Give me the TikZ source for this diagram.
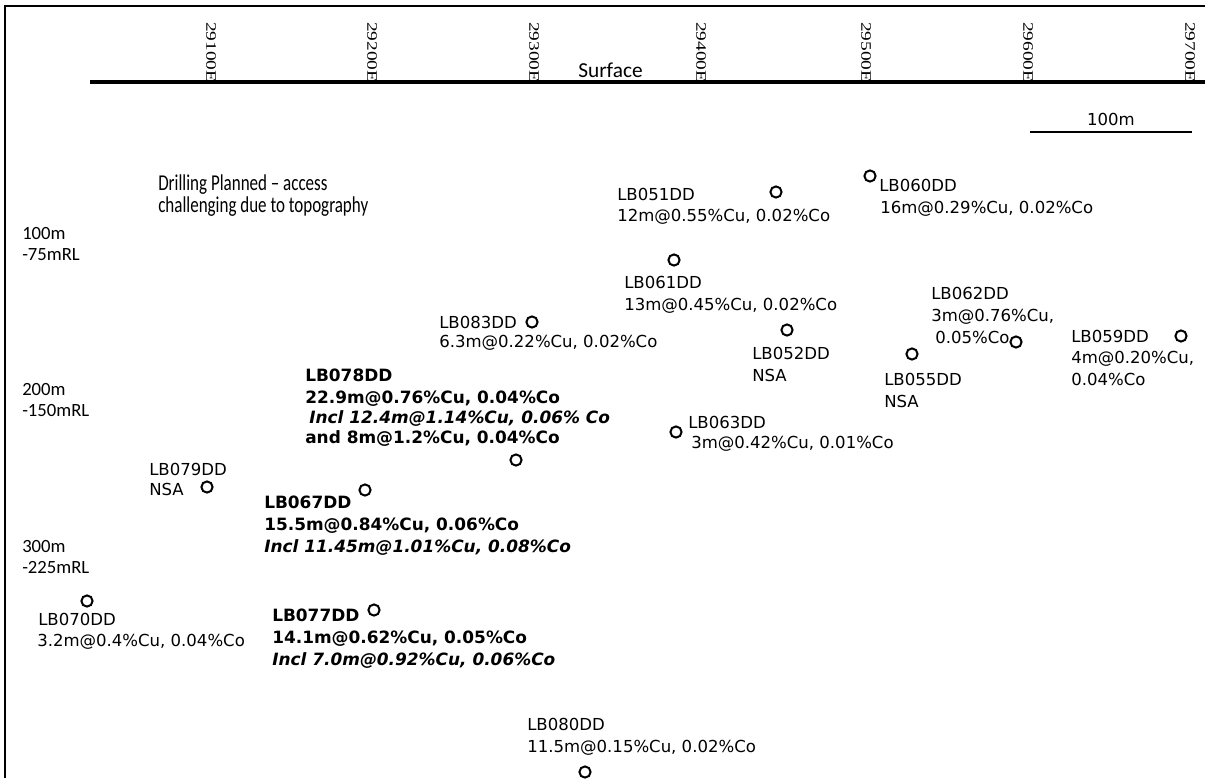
\documentclass[tikz,border=0pt]{standalone}
\usepackage{fontspec}
\setmainfont{DejaVu Sans}
\newfontfamily\califont{Carlito}
\newfontfamily\narrowfont{Carlito}[FakeStretch=0.75]
\newfontfamily\eastfont{Liberation Serif}

\begin{document}
\begin{tikzpicture}[x=0.75pt, y=-0.75pt,
  hole/.style={circle, draw, line width=1.5pt, minimum size=8.4pt, inner sep=0pt},
  lbl/.style={anchor=base west, inner sep=0pt, font=\fontsize{12.4}{15}\selectfont},
  hit/.style={anchor=base west, inner sep=0pt, font=\fontsize{12.7}{15}\selectfont\bfseries},
  incl/.style={anchor=base west, inner sep=0pt, font=\fontsize{12.7}{15}\selectfont\bfseries\itshape},
  cal/.style={anchor=base west, inner sep=0pt, font=\califont\fontsize{14}{17}\selectfont},
  note/.style={anchor=base west, inner sep=0pt, font=\narrowfont\fontsize{17}{19}\selectfont},
  easting/.style={rotate=-90, yscale=0.75, anchor=west, inner sep=0pt, font=\eastfont\fontsize{14.5}{15}\selectfont}]
  \useasboundingbox (0,0) rectangle (1205,778);

  % frame and surface
  \draw[line width=1.5pt] (5,778) -- (5,6) -- (1205,6);
  \draw[line width=2.5pt] (90,82) -- (1205,82);
  \node[cal, font=\califont\fontsize{16}{18}\selectfont] (surface) at (578,77) {Surface};
  \foreach \e/\x in {29100/211, 29200/372, 29300/534, 29400/701, 29500/866, 29600/1028, 29700/1190}
    \node[easting] (e\e) at (\x,22) {\e E};

  % scale bar
  \draw[line width=2.2pt] (1030,132) -- (1192,132);
  \node[lbl, anchor=base] (scale) at (1111,125) {100m};

  % depth marks
  \node[cal] (d100) at (22,239) {100m};
  \node[cal] (rl75) at (22,260) {-75mRL};
  \node[cal] (d200) at (22,395) {200m};
  \node[cal] (rl150) at (22,416) {-150mRL};
  \node[cal] (d300) at (22,552) {300m};
  \node[cal] (rl225) at (22,573) {-225mRL};

  \node[note] (plan1) at (158,190) {Drilling Planned – access};
  \node[note] (plan2) at (158,212) {challenging due to topography};

  % holes
  \node[hole] (lb051) at (776,192) {};
  \node[lbl] (lb051a) at (617,200) {LB051DD};
  \node[lbl] (lb051b) at (617,221) {12m@0.55\%Cu, 0.02\%Co};

  \node[hole] (lb060) at (870,176) {};
  \node[lbl] (lb060a) at (879,191) {LB060DD};
  \node[lbl] (lb060b) at (880,213) {16m@0.29\%Cu, 0.02\%Co};

  \node[hole] (lb061) at (674,260) {};
  \node[lbl] (lb061a) at (624,288) {LB061DD};
  \node[lbl] (lb061b) at (624,310) {13m@0.45\%Cu, 0.02\%Co};

  \node[hole] (lb083) at (532,322) {};
  \node[lbl] (lb083a) at (439,328) {LB083DD};
  \node[lbl] (lb083b) at (439,347) {6.3m@0.22\%Cu, 0.02\%Co};

  \node[hole] (lb052) at (787,330) {};
  \node[lbl] (lb052a) at (752,359) {LB052DD};
  \node[lbl] (lb052b) at (752,381) {NSA};

  \node[hole] (lb062) at (1016,342) {};
  \node[lbl] (lb062a) at (931,299) {LB062DD};
  \node[lbl] (lb062b) at (931,321) {3m@0.76\%Cu,};
  \node[lbl] (lb062c) at (935,343) {0.05\%Co};

  \node[hole] (lb055) at (912,354) {};
  \node[lbl] (lb055a) at (884,385) {LB055DD};
  \node[lbl] (lb055b) at (884,407) {NSA};

  \node[hole] (lb059) at (1181,336) {};
  \node[lbl] (lb059a) at (1071,342) {LB059DD};
  \node[lbl] (lb059b) at (1071,363) {4m@0.20\%Cu,};
  \node[lbl] (lb059c) at (1071,385) {0.04\%Co};

  \node[hole] (lb078) at (516,460) {};
  \node[hit] (lb078a) at (305,381) {LB078DD};
  \node[hit] (lb078b) at (305,403) {22.9m@0.76\%Cu, 0.04\%Co};
  \node[incl] (lb078c) at (309,423) {Incl 12.4m@1.14\%Cu, 0.06\% Co};
  \node[hit] (lb078d) at (305,443) {and 8m@1.2\%Cu, 0.04\%Co};

  \node[hole] (lb063) at (676,432) {};
  \node[lbl] (lb063a) at (688,428) {LB063DD};
  \node[lbl] (lb063b) at (691,448) {3m@0.42\%Cu, 0.01\%Co};

  \node[hole] (lb079) at (207,487) {};
  \node[lbl] (lb079a) at (149,475) {LB079DD};
  \node[lbl] (lb079b) at (149,495) {NSA};

  \node[hole] (lb067) at (365,490) {};
  \node[hit] (lb067a) at (264,508) {LB067DD};
  \node[hit] (lb067b) at (264,530) {15.5m@0.84\%Cu, 0.06\%Co};
  \node[incl] (lb067c) at (264,552) {Incl 11.45m@1.01\%Cu, 0.08\%Co};

  \node[hole] (lb070) at (87,601) {};
  \node[lbl] (lb070a) at (38,625) {LB070DD};
  \node[lbl] (lb070b) at (37,646) {3.2m@0.4\%Cu, 0.04\%Co};

  \node[hole] (lb077) at (374,610) {};
  \node[hit] (lb077a) at (272,621) {LB077DD};
  \node[hit] (lb077b) at (272,643) {14.1m@0.62\%Cu, 0.05\%Co};
  \node[incl] (lb077c) at (272,665) {Incl 7.0m@0.92\%Cu, 0.06\%Co};

  \node[hole] (lb080) at (585,772) {};
  \node[lbl] (lb080a) at (527,730) {LB080DD};
  \node[lbl] (lb080b) at (527,752) {11.5m@0.15\%Cu, 0.02\%Co};
\end{tikzpicture}
\end{document}
